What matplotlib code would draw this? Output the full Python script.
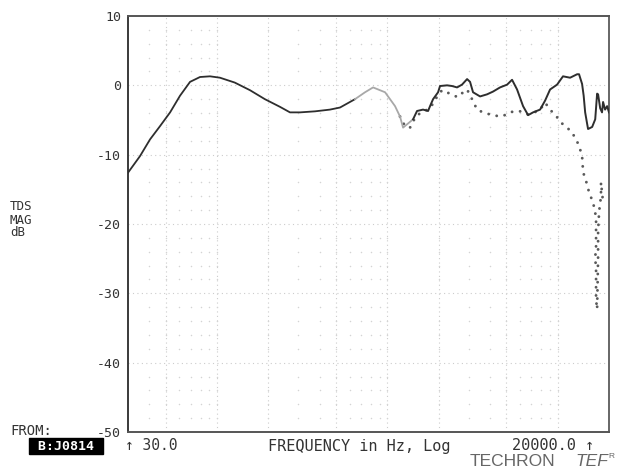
import matplotlib.pyplot as plt
import numpy as np

# solid trace (Hz, dB)
solid_freq = [30, 35.3, 40.4, 46.2, 53, 60.6, 69.4, 79.4, 90.9, 104, 127, 156, 191, 234, 268,
              307, 376, 460, 527, 645, 739, 824, 969, 1109, 1186, 1236, 1415, 1493, 1619,
              1733, 1780, 1854, 1905, 1984, 2037, 2240, 2398, 2565, 2742, 2937, 3057, 3183,
              3500, 3846, 4171, 4585, 5044, 5394, 5772, 6259, 6700, 7165, 7877, 8430, 9018,
              9912, 10740, 11820, 13000, 13340, 13900, 14200, 14490, 14870, 15070, 15930,
              16600, 17030, 17260, 17750, 18200, 18460, 18970, 19500, 20000]
solid_db = [-12.6, -10.2, -7.8, -5.9, -3.9, -1.5, 0.5, 1.2, 1.3, 1.1, 0.4, -0.7, -2.0, -3.1, -3.9,
            -3.9, -3.75, -3.5, -3.2, -2.0, -1.0, -0.3, -1.0, -3.0, -4.5, -6.1, -4.9, -3.7, -3.5,
            -3.7, -3.0, -2.0, -1.6, -1.0, -0.1, 0.0, -0.1, -0.3, 0.1, 0.9, 0.5, -1.0,
            -1.6, -1.3, -0.9, -0.3, 0.1, 0.8, -0.6, -3.0, -4.3, -3.9, -3.5, -2.2, -0.6,
            0.1, 1.3, 1.1, 1.6, 1.6, 0.2, -1.5, -3.9, -5.5, -6.3, -6.0,
            -4.9, -1.2, -1.3, -3.3, -3.9, -2.4, -3.5, -3.0, -3.9]

# dotted trace (Hz, dB)
dot_freq = [1186, 1270, 1358, 1415, 1493, 1598, 1780, 1854, 1984, 2094, 2240, 2398, 2600,
            2781, 2937, 3141, 3361, 3646, 4007, 4585, 5044, 5470, 6012, 6610, 7165, 7877,
            8430, 9018, 9912, 10600, 11350, 12140, 13000, 13520, 13900, 14100, 14490,
            15070, 15490, 15930, 16150, 16600, 16790, 16790, 16790, 16600, 16790, 16790,
            16790, 17030, 17260, 17260, 17260, 17260, 17500, 17950, 17950, 18460]
dot_db = [-4.5, -5.9, -6.1, -5.2, -4.3, -3.9, -3.3, -2.6, -1.4, -0.7, -1.0, -1.4, -1.7,
          -1.0, -0.6, -2.0, -3.5, -3.9, -4.2, -4.5, -4.2, -3.75, -3.75, -4.2, -4.0, -3.5,
          -2.5, -3.5, -4.6, -5.5, -6.1, -6.8, -8.1, -9.2, -10.2, -12.6, -13.3,
          -14.9, -15.9, -16.5, -17.0, -18.3, -19.6, -21.8, -23.4, -24.8, -26.6, -28.0,
          -30.9, -32.3, -24.8, -23.2, -22.2, -21.1, -18.2, -16.0, -14.0, -16.9]

ytick_vals = [10, 0, -10, -20, -30, -40, -50]
major_x = [50, 100, 200, 500, 1000, 2000, 5000, 10000]

mono = 'DejaVu Sans Mono'
ink = '#2e2e2e'

fig = plt.figure(figsize=(6.39, 4.71), dpi=100)
ax = fig.add_axes([128/639, 1-432/471, 481/639, 416/471])
ax.set_xscale('log')
ax.set_xlim(30, 20000)
ax.set_ylim(-50, 10)

# grid: dense dotted lines at major positions, sparse dot lattice for minors
for f in major_x:
    ax.axvline(f, color='#cccccc', lw=0.8, ls=(0, (1, 3)), zorder=1)
for v in range(-40, 10, 10):
    ax.axhline(v, color='#cccccc', lw=0.8, ls=(0, (1, 3)), zorder=1)
minor_f = [m * 10**d for d in range(1, 5) for m in range(2, 10)
           if 30 < m * 10**d < 20000 and m * 10**d not in major_x]
minor_y = [v for v in range(-48, 10, 2) if v % 10 != 0]
gx, gy = np.meshgrid(minor_f + major_x, minor_y)
ax.scatter(gx.ravel(), gy.ravel(), s=1.2, color='#d4d4d4', lw=0, zorder=1)

# solid trace, faded in the middle like the original print
sf = np.array(solid_freq)
sd = np.array(solid_db)
m1 = sf <= 645
m2 = (sf >= 645) & (sf <= 1415)
m3 = sf >= 1415
ax.plot(sf[m1], sd[m1], color=ink, lw=1.3, zorder=3)
ax.plot(sf[m2], sd[m2], color='#a8a8a8', lw=1.3, zorder=3)
ax.plot(sf[m3], sd[m3], color=ink, lw=1.4, zorder=3)

ax.plot(dot_freq, dot_db, color='#5a5a5a', lw=2.1, ls=(0, (0.01, 2.8)),
        dash_capstyle='round', zorder=2)

for s, c in zip(['left', 'top', 'right', 'bottom'], ['#3a3a3a', '#555555', '#666666', '#555555']):
    ax.spines[s].set_color(c)
    ax.spines[s].set_linewidth(1.4)

ax.set_yticks(ytick_vals)
ax.set_yticklabels([str(v) for v in ytick_vals], family=mono, fontsize=9.5, color='#333333')
ax.tick_params(axis='y', length=0, pad=5)
ax.set_xticks([])
ax.xaxis.set_minor_locator(plt.NullLocator())

fig.text(10/639, 1-220/471, "TDS\nMAG\ndB", family=mono, fontsize=9, color='#333333',
         va='center', ha='left', linespacing=1.0)
fig.text(10/639, 1-431/471, "FROM:", family=mono, fontsize=10, color='#333333', va='center')
fig.text(30/639, 1-446/471, " B:J0814 ", family=mono, fontsize=9.5, color='white',
         weight='bold', va='center',
         bbox=dict(boxstyle='square,pad=0.1', fc='black', ec='black'))
fig.text(125/639, 1-446/471, "↑ 30.0", family=mono, fontsize=10.5, color='#333333', va='center')
fig.text(268/639, 1-446/471, "FREQUENCY in Hz, Log", family=mono, fontsize=11,
         color='#333333', va='center')
fig.text(512/639, 1-446/471, "20000.0 ↑", family=mono, fontsize=11, color='#333333', va='center')
fig.text(470/639, 1-462/471, "TECHRON", family='Liberation Sans', fontsize=12.5,
         color='#666666', va='center')
fig.text(575/639, 1-462/471, "TEF", family='Liberation Sans', fontsize=12.5, style='italic',
         color='#666666', va='center')
fig.text(608/639, 1-456/471, "R", family='Liberation Sans', fontsize=6, color='#666666',
         va='center')

fig.savefig('out.png', dpi=100)
